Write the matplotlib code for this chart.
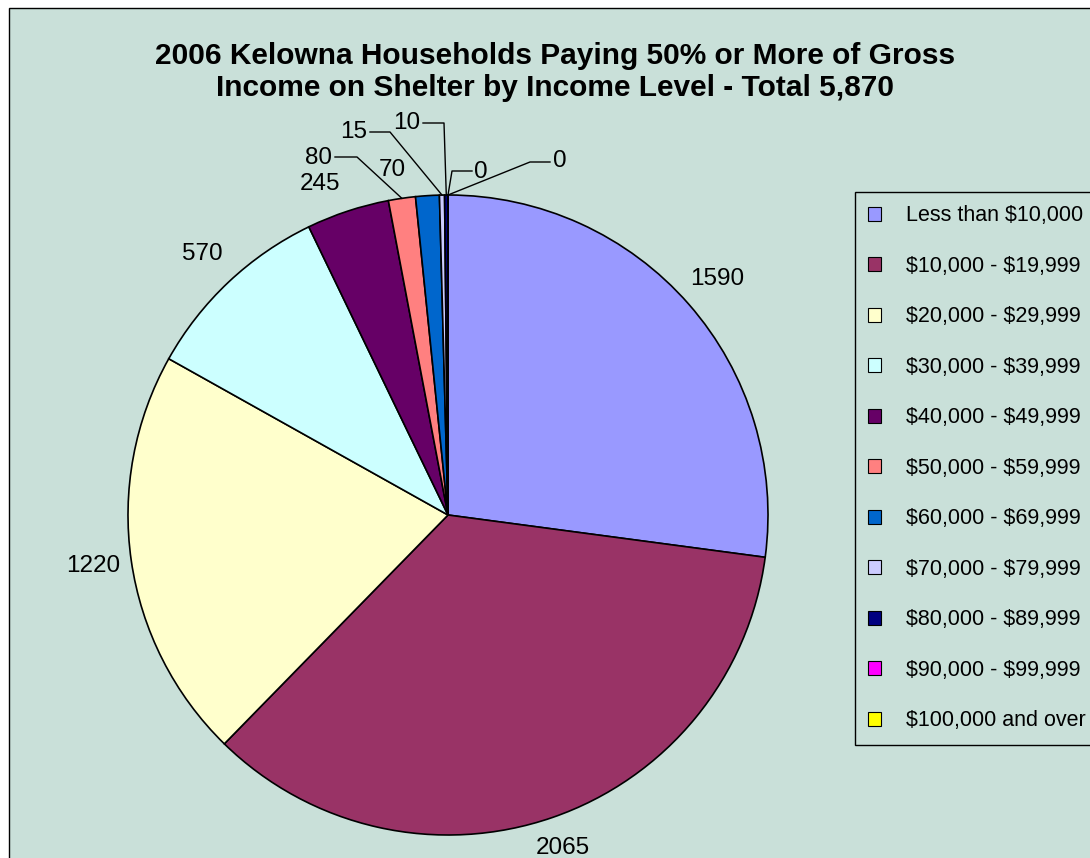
import matplotlib.pyplot as plt
from matplotlib.patches import Rectangle, Patch
import numpy as np

plt.rcParams['font.family'] = ['Liberation Sans', 'DejaVu Sans']
plt.rcParams['text.parse_math'] = False

categories = ['Less than $10,000', '$10,000 - $19,999', '$20,000 - $29,999',
              '$30,000 - $39,999', '$40,000 - $49,999', '$50,000 - $59,999',
              '$60,000 - $69,999', '$70,000 - $79,999', '$80,000 - $89,999',
              '$90,000 - $99,999', '$100,000 and over']
households = [1590, 2065, 1220, 570, 245, 80, 70, 15, 10, 0, 0]
colors = ['#9999FF', '#993366', '#FFFFCC', '#CCFFFF', '#660066', '#FF8080',
          '#0066CC', '#CCCCFF', '#000080', '#FF00FF', '#FFFF00']
title = ('2006 Kelowna Households Paying 50% or More of Gross\n'
         'Income on Shelter by Income Level - Total 5,870')

bg = '#C9E0D9'
W, H = 1090, 858

fig = plt.figure(figsize=(W / 100, H / 100), dpi=100, facecolor='white')
ax = fig.add_axes([0, 0, 1, 1])

# chart area (runs off the right / bottom edge like the screenshot)
ax.add_patch(Rectangle((9, -10), 1200, H - 8 + 10, facecolor=bg,
                       edgecolor='black', linewidth=1, zorder=0))

cx, cy, R = 448, H - 515, 320
wedges, _ = ax.pie(households, colors=colors, startangle=90, counterclock=False,
                   center=(cx, cy), radius=R,
                   wedgeprops=dict(edgecolor='black', linewidth=1.2))

# small slices: (text centre, leader start, elbow) in screen px (top origin)
leaders = {
    5: ((319, 158), (335, 157), (357, 157)),
    7: ((354, 132), (370, 132), (390, 132)),
    8: ((407, 123), (423, 123), (444, 123)),
    9: ((481, 172), (472, 171), (452, 171)),
    10: ((560, 161), (550, 162), (530, 162)),
}
moved = {4: (320, 184), 6: (392, 170)}
label_dist = {1: 1.10}
fs = 17.5

for i, (w, v) in enumerate(zip(wedges, households)):
    mid = np.deg2rad((w.theta1 + w.theta2) / 2)
    ex, ey = cx + R * np.cos(mid), cy + R * np.sin(mid)
    if i in leaders:
        (tx, ty), (sx, sy), (bx, by) = leaders[i]
        ax.text(tx, H - ty, str(v), ha='center', va='center', fontsize=fs)
        ax.plot([sx, bx, ex], [H - sy, H - by, ey], color='black', lw=1)
    elif i in moved:
        tx, ty = moved[i]
        ax.text(tx, H - ty, str(v), ha='center', va='center', fontsize=fs)
    else:
        d = label_dist.get(i, 1.12) * R
        ax.text(cx + d * np.cos(mid), cy + d * np.sin(mid), str(v),
                ha='center', va='center', fontsize=fs)

ax.set_xlim(0, W)
ax.set_ylim(0, H)
ax.set_aspect('auto')
ax.axis('off')

fig.text(555 / W, 1 - 72 / H, title, ha='center', va='center',
         fontsize=21.5, fontweight='bold', linespacing=1.15)

handles = [Patch(facecolor=c, edgecolor='black', linewidth=0.8) for c in colors]
leg = fig.legend(handles, categories, loc='upper left',
                 bbox_to_anchor=(855 / W, 1 - 192 / H), borderaxespad=0,
                 fontsize=15.5, frameon=True, fancybox=False, edgecolor='black',
                 facecolor=bg, framealpha=1, borderpad=0.62, labelspacing=1.37,
                 handlelength=0.6, handleheight=0.6, handletextpad=1.15)
leg.get_frame().set_linewidth(1)

fig.savefig('out.png', dpi=100, facecolor='white')
